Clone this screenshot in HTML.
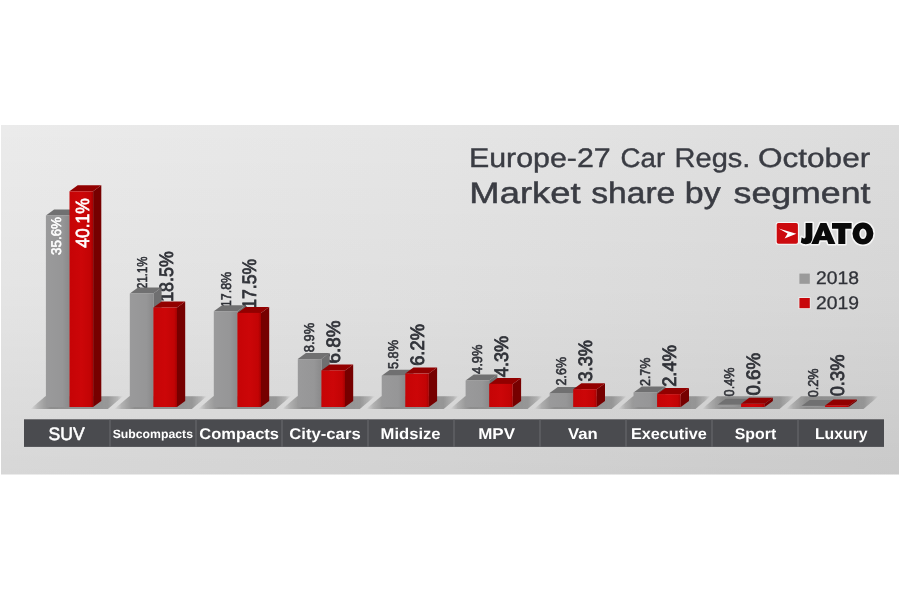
<!DOCTYPE html>
<html><head><meta charset="utf-8"><title>Europe-27 Car Regs. October - Market share by segment</title>
<style>
html,body{margin:0;padding:0;background:#fff;}
body{width:900px;height:600px;overflow:hidden;font-family:"Liberation Sans",sans-serif;}
svg{display:block;font-family:"Liberation Sans",sans-serif;}
text{text-rendering:geometricPrecision;}
</style></head><body>
<svg width="900" height="600" viewBox="0 0 900 600">
<defs>
<linearGradient id="bg" x1="0" x2="1" y1="0" y2="0">
<stop offset="0" stop-color="#ebebeb"/><stop offset="0.5" stop-color="#e5e5e5"/><stop offset="1" stop-color="#dcdcdc"/>
</linearGradient>
<linearGradient id="bgv" x1="0" x2="0" y1="0" y2="1">
<stop offset="0" stop-color="#000" stop-opacity="0"/><stop offset="0.5" stop-color="#000" stop-opacity="0.03"/><stop offset="1" stop-color="#000" stop-opacity="0.085"/>
</linearGradient>
<linearGradient id="gf" x1="0" x2="1" y1="0" y2="0">
<stop offset="0" stop-color="#9a9a9b"/><stop offset="0.7" stop-color="#969697"/><stop offset="1" stop-color="#8a8a8b"/>
</linearGradient>
<linearGradient id="rf" x1="0" x2="1" y1="0" y2="0">
<stop offset="0" stop-color="#c60406"/><stop offset="0.5" stop-color="#cc0608"/><stop offset="0.88" stop-color="#c20405"/><stop offset="1" stop-color="#a40102"/>
</linearGradient>
<linearGradient id="sh" x1="0" x2="1" y1="0" y2="0">
<stop offset="0" stop-color="#808080" stop-opacity="0"/>
<stop offset="0.08" stop-color="#808080" stop-opacity="0.45"/>
<stop offset="0.22" stop-color="#808080" stop-opacity="0.85"/>
<stop offset="0.84" stop-color="#848484" stop-opacity="0.78"/>
<stop offset="0.94" stop-color="#868686" stop-opacity="0.45"/>
<stop offset="1" stop-color="#888888" stop-opacity="0"/>
</linearGradient>
<filter id="b1" x="-10%" y="-30%" width="120%" height="160%"><feGaussianBlur stdDeviation="0.65"/></filter>
</defs>
<rect x="0" y="0" width="900" height="600" fill="#ffffff"/>
<g opacity="0.999">
<rect x="1" y="125" width="898" height="349.5" fill="url(#bg)"/>
<rect x="1" y="125" width="898" height="349.5" fill="url(#bgv)"/>

<polygon filter="url(#b1)" points="30.4,409.0 45.4,396.2 122.9,396.2 107.9,409.0" fill="url(#sh)"/>
<polygon filter="url(#b1)" points="114.3,409.0 129.3,396.2 206.8,396.2 191.8,409.0" fill="url(#sh)"/>
<polygon filter="url(#b1)" points="198.3,409.0 213.3,396.2 290.8,396.2 275.8,409.0" fill="url(#sh)"/>
<polygon filter="url(#b1)" points="282.2,409.0 297.2,396.2 374.8,396.2 359.8,409.0" fill="url(#sh)"/>
<polygon filter="url(#b1)" points="366.2,409.0 381.2,396.2 458.7,396.2 443.7,409.0" fill="url(#sh)"/>
<polygon filter="url(#b1)" points="450.1,409.0 465.1,396.2 542.6,396.2 527.6,409.0" fill="url(#sh)"/>
<polygon filter="url(#b1)" points="534.1,409.0 549.1,396.2 626.6,396.2 611.6,409.0" fill="url(#sh)"/>
<polygon filter="url(#b1)" points="618.0,409.0 633.0,396.2 710.5,396.2 695.5,409.0" fill="url(#sh)"/>
<polygon filter="url(#b1)" points="702.0,409.0 717.0,396.2 794.5,396.2 779.5,409.0" fill="url(#sh)"/>
<polygon filter="url(#b1)" points="786.0,409.0 801.0,396.2 878.5,396.2 863.5,409.0" fill="url(#sh)"/>
<text transform="translate(146.5,289.2) rotate(-90)" x="0.30" font-size="14.2" fill="#303238" stroke="#303238" stroke-width="0.6" textLength="32.29" lengthAdjust="spacingAndGlyphs">21.1%</text>
<text transform="translate(172.5,301.3) rotate(-90)" x="-0.52" font-size="19.4" fill="#303238" stroke="#303238" stroke-width="0.8" textLength="50.64" lengthAdjust="spacingAndGlyphs">18.5%</text>
<text transform="translate(230.5,306.7) rotate(-90)" x="-0.58" font-size="14.2" fill="#303238" stroke="#303238" stroke-width="0.6" textLength="35.54" lengthAdjust="spacingAndGlyphs">17.8%</text>
<text transform="translate(256.4,308.2) rotate(-90)" x="-0.51" font-size="19.4" fill="#303238" stroke="#303238" stroke-width="0.8" textLength="49.82" lengthAdjust="spacingAndGlyphs">17.5%</text>
<text transform="translate(314.4,352.5) rotate(-90)" x="0.30" font-size="14.2" fill="#303238" stroke="#303238" stroke-width="0.6" textLength="29.55" lengthAdjust="spacingAndGlyphs">8.9%</text>
<text transform="translate(340.4,363.8) rotate(-90)" x="0.40" font-size="19.4" fill="#303238" stroke="#303238" stroke-width="0.8" textLength="42.93" lengthAdjust="spacingAndGlyphs">6.8%</text>
<text transform="translate(398.4,369.3) rotate(-90)" x="0.30" font-size="14.2" fill="#303238" stroke="#303238" stroke-width="0.6" textLength="29.05" lengthAdjust="spacingAndGlyphs">5.8%</text>
<text transform="translate(424.3,366.2) rotate(-90)" x="0.40" font-size="19.4" fill="#303238" stroke="#303238" stroke-width="0.8" textLength="41.73" lengthAdjust="spacingAndGlyphs">6.2%</text>
<text transform="translate(482.3,374.3) rotate(-90)" x="0.30" font-size="14.2" fill="#303238" stroke="#303238" stroke-width="0.6" textLength="29.35" lengthAdjust="spacingAndGlyphs">4.9%</text>
<text transform="translate(508.3,377.6) rotate(-90)" x="0.40" font-size="19.4" fill="#303238" stroke="#303238" stroke-width="0.8" textLength="41.43" lengthAdjust="spacingAndGlyphs">4.3%</text>
<text transform="translate(566.3,385.7) rotate(-90)" x="0.30" font-size="14.2" fill="#303238" stroke="#303238" stroke-width="0.6" textLength="28.36" lengthAdjust="spacingAndGlyphs">2.6%</text>
<text transform="translate(592.2,381.9) rotate(-90)" x="0.40" font-size="19.4" fill="#303238" stroke="#303238" stroke-width="0.8" textLength="41.43" lengthAdjust="spacingAndGlyphs">3.3%</text>
<text transform="translate(650.2,386.3) rotate(-90)" x="0.30" font-size="14.2" fill="#303238" stroke="#303238" stroke-width="0.6" textLength="28.36" lengthAdjust="spacingAndGlyphs">2.7%</text>
<text transform="translate(676.2,387.2) rotate(-90)" x="0.40" font-size="19.4" fill="#303238" stroke="#303238" stroke-width="0.8" textLength="41.73" lengthAdjust="spacingAndGlyphs">2.4%</text>
<text transform="translate(734.2,396.7) rotate(-90)" x="0.30" font-size="14.2" fill="#303238" stroke="#303238" stroke-width="0.6" textLength="28.86" lengthAdjust="spacingAndGlyphs">0.4%</text>
<text transform="translate(760.1,396.0) rotate(-90)" x="0.40" font-size="19.4" fill="#303238" stroke="#303238" stroke-width="0.8" textLength="42.83" lengthAdjust="spacingAndGlyphs">0.6%</text>
<text transform="translate(818.1,397.6) rotate(-90)" x="0.30" font-size="14.2" fill="#303238" stroke="#303238" stroke-width="0.6" textLength="28.86" lengthAdjust="spacingAndGlyphs">0.2%</text>
<text transform="translate(844.1,396.7) rotate(-90)" x="0.40" font-size="19.4" fill="#303238" stroke="#303238" stroke-width="0.8" textLength="41.73" lengthAdjust="spacingAndGlyphs">0.3%</text>
<polygon points="69.5,215.5 77.7,209.5 77.7,401.0 69.5,407.0" fill="#6f6f70"/>
<polygon points="45.9,215.5 54.1,209.5 77.7,209.5 69.5,215.5" fill="#707071"/>
<rect x="45.9" y="215.5" width="23.6" height="191.5" fill="url(#gf)"/>
<polygon points="93.1,191.3 101.3,185.3 101.3,401.0 93.1,407.0" fill="#760000"/>
<polygon points="69.5,191.3 77.7,185.3 101.3,185.3 93.1,191.3" fill="#920000"/>
<rect x="69.5" y="191.3" width="23.6" height="215.7" fill="url(#rf)"/>
<polygon points="153.4,293.5 161.6,287.5 161.6,401.0 153.4,407.0" fill="#6f6f70"/>
<polygon points="129.8,293.5 138.0,287.5 161.6,287.5 153.4,293.5" fill="#707071"/>
<rect x="129.8" y="293.5" width="23.6" height="113.5" fill="url(#gf)"/>
<polygon points="177.0,307.5 185.2,301.5 185.2,401.0 177.0,407.0" fill="#760000"/>
<polygon points="153.4,307.5 161.6,301.5 185.2,301.5 177.0,307.5" fill="#920000"/>
<rect x="153.4" y="307.5" width="23.6" height="99.5" fill="url(#rf)"/>
<polygon points="237.4,311.2 245.6,305.2 245.6,401.0 237.4,407.0" fill="#6f6f70"/>
<polygon points="213.8,311.2 222.0,305.2 245.6,305.2 237.4,311.2" fill="#707071"/>
<rect x="213.8" y="311.2" width="23.6" height="95.8" fill="url(#gf)"/>
<polygon points="261.0,312.9 269.2,306.9 269.2,401.0 261.0,407.0" fill="#760000"/>
<polygon points="237.4,312.9 245.6,306.9 269.2,306.9 261.0,312.9" fill="#920000"/>
<rect x="237.4" y="312.9" width="23.6" height="94.1" fill="url(#rf)"/>
<polygon points="321.4,359.1 329.6,353.1 329.6,401.0 321.4,407.0" fill="#6f6f70"/>
<polygon points="297.8,359.1 305.9,353.1 329.6,353.1 321.4,359.1" fill="#707071"/>
<rect x="297.8" y="359.1" width="23.6" height="47.9" fill="url(#gf)"/>
<polygon points="345.0,370.4 353.2,364.4 353.2,401.0 345.0,407.0" fill="#760000"/>
<polygon points="321.4,370.4 329.6,364.4 353.2,364.4 345.0,370.4" fill="#920000"/>
<rect x="321.4" y="370.4" width="23.6" height="36.6" fill="url(#rf)"/>
<polygon points="405.3,375.8 413.5,369.8 413.5,401.0 405.3,407.0" fill="#6f6f70"/>
<polygon points="381.7,375.8 389.9,369.8 413.5,369.8 405.3,375.8" fill="#707071"/>
<rect x="381.7" y="375.8" width="23.6" height="31.2" fill="url(#gf)"/>
<polygon points="428.9,373.6 437.1,367.6 437.1,401.0 428.9,407.0" fill="#760000"/>
<polygon points="405.3,373.6 413.5,367.6 437.1,367.6 428.9,373.6" fill="#920000"/>
<rect x="405.3" y="373.6" width="23.6" height="33.4" fill="url(#rf)"/>
<polygon points="489.2,380.6 497.4,374.6 497.4,401.0 489.2,407.0" fill="#6f6f70"/>
<polygon points="465.6,380.6 473.8,374.6 497.4,374.6 489.2,380.6" fill="#707071"/>
<rect x="465.6" y="380.6" width="23.6" height="26.4" fill="url(#gf)"/>
<polygon points="512.9,383.9 521.1,377.9 521.1,401.0 512.9,407.0" fill="#760000"/>
<polygon points="489.2,383.9 497.4,377.9 521.1,377.9 512.9,383.9" fill="#920000"/>
<rect x="489.2" y="383.9" width="23.6" height="23.1" fill="url(#rf)"/>
<polygon points="573.2,393.0 581.4,387.0 581.4,401.0 573.2,407.0" fill="#6f6f70"/>
<polygon points="549.6,393.0 557.8,387.0 581.4,387.0 573.2,393.0" fill="#707071"/>
<rect x="549.6" y="393.0" width="23.6" height="14.0" fill="url(#gf)"/>
<polygon points="596.8,389.2 605.0,383.2 605.0,401.0 596.8,407.0" fill="#760000"/>
<polygon points="573.2,389.2 581.4,383.2 605.0,383.2 596.8,389.2" fill="#920000"/>
<rect x="573.2" y="389.2" width="23.6" height="17.8" fill="url(#rf)"/>
<polygon points="657.1,392.5 665.4,386.5 665.4,401.0 657.1,407.0" fill="#6f6f70"/>
<polygon points="633.5,392.5 641.8,386.5 665.4,386.5 657.1,392.5" fill="#707071"/>
<rect x="633.5" y="392.5" width="23.6" height="14.5" fill="url(#gf)"/>
<polygon points="680.8,394.1 689.0,388.1 689.0,401.0 680.8,407.0" fill="#760000"/>
<polygon points="657.1,394.1 665.4,388.1 689.0,388.1 680.8,394.1" fill="#920000"/>
<rect x="657.1" y="394.1" width="23.6" height="12.9" fill="url(#rf)"/>
<polygon points="741.1,404.8 749.3,398.8 749.3,401.0 741.1,407.0" fill="#6f6f70"/>
<polygon points="717.5,404.8 725.7,398.8 749.3,398.8 741.1,404.8" fill="#707071"/>
<rect x="717.5" y="404.8" width="23.6" height="2.2" fill="url(#gf)"/>
<polygon points="764.7,403.8 772.9,397.8 772.9,401.0 764.7,407.0" fill="#760000"/>
<polygon points="741.1,403.8 749.3,397.8 772.9,397.8 764.7,403.8" fill="#920000"/>
<rect x="741.1" y="403.8" width="23.6" height="3.2" fill="url(#rf)"/>
<polygon points="825.1,405.9 833.3,399.9 833.3,401.0 825.1,407.0" fill="#6f6f70"/>
<polygon points="801.5,405.9 809.7,399.9 833.3,399.9 825.1,405.9" fill="#707071"/>
<rect x="801.5" y="405.9" width="23.6" height="1.1" fill="url(#gf)"/>
<polygon points="848.7,405.4 856.9,399.4 856.9,401.0 848.7,407.0" fill="#760000"/>
<polygon points="825.1,405.4 833.3,399.4 856.9,399.4 848.7,405.4" fill="#920000"/>
<rect x="825.1" y="405.4" width="23.6" height="1.6" fill="url(#rf)"/>
<text transform="translate(60.9,255.2) rotate(-90)" x="0.30" font-size="14.0" fill="#ffffff" stroke="#ffffff" stroke-width="0.6" textLength="37.83" lengthAdjust="spacingAndGlyphs">35.6%</text>
<text transform="translate(88.8,248.0) rotate(-90)" x="0.35" font-size="19.0" fill="#ffffff" stroke="#ffffff" stroke-width="0.7" textLength="49.50" lengthAdjust="spacingAndGlyphs">40.1%</text>
<rect x="24" y="419.3" width="860" height="27.6" fill="#4a4b4f"/>
<rect x="109.5" y="419.3" width="1" height="27.6" fill="#6b6c70"/>
<rect x="195.5" y="419.3" width="1" height="27.6" fill="#6b6c70"/>
<rect x="281.5" y="419.3" width="1" height="27.6" fill="#6b6c70"/>
<rect x="367.5" y="419.3" width="1" height="27.6" fill="#6b6c70"/>
<rect x="453.5" y="419.3" width="1" height="27.6" fill="#6b6c70"/>
<rect x="539.5" y="419.3" width="1" height="27.6" fill="#6b6c70"/>
<rect x="625.5" y="419.3" width="1" height="27.6" fill="#6b6c70"/>
<rect x="711.5" y="419.3" width="1" height="27.6" fill="#6b6c70"/>
<rect x="797.5" y="419.3" width="1" height="27.6" fill="#6b6c70"/>
<text x="48.57" y="440.0" font-size="18" fill="#ffffff" stroke="#ffffff" stroke-width="0.55" textLength="36.16" lengthAdjust="spacingAndGlyphs">SUV</text>
<text x="112.70" y="438.3" font-size="12" font-weight="bold" fill="#ffffff" textLength="80.27" lengthAdjust="spacingAndGlyphs">Subcompacts</text>
<text x="199.30" y="439.3" font-size="15.5" font-weight="bold" fill="#ffffff" textLength="79.66" lengthAdjust="spacingAndGlyphs">Compacts</text>
<text x="289.30" y="439.3" font-size="15.5" font-weight="bold" fill="#ffffff" textLength="71.37" lengthAdjust="spacingAndGlyphs">City-cars</text>
<text x="380.63" y="439.3" font-size="15.5" font-weight="bold" fill="#ffffff" textLength="59.96" lengthAdjust="spacingAndGlyphs">Midsize</text>
<text x="478.21" y="439.3" font-size="15.5" font-weight="bold" fill="#ffffff" textLength="36.77" lengthAdjust="spacingAndGlyphs">MPV</text>
<text x="568.00" y="439.3" font-size="15.5" font-weight="bold" fill="#ffffff" textLength="29.70" lengthAdjust="spacingAndGlyphs">Van</text>
<text x="630.95" y="439.3" font-size="15.5" font-weight="bold" fill="#ffffff" textLength="75.85" lengthAdjust="spacingAndGlyphs">Executive</text>
<text x="734.80" y="439.3" font-size="15.5" font-weight="bold" fill="#ffffff" textLength="41.37" lengthAdjust="spacingAndGlyphs">Sport</text>
<text x="814.98" y="439.3" font-size="15.5" font-weight="bold" fill="#ffffff" textLength="52.63" lengthAdjust="spacingAndGlyphs">Luxury</text>
<text x="468.93" y="167.4" font-size="26.8" fill="#3a3c43" stroke="#3a3c43" stroke-width="0.4" textLength="141.79" lengthAdjust="spacingAndGlyphs">Europe-27</text>
<text x="620.57" y="167.4" font-size="26.8" fill="#3a3c43" stroke="#3a3c43" stroke-width="0.4" textLength="44.55" lengthAdjust="spacingAndGlyphs">Car</text>
<text x="674.63" y="167.4" font-size="26.8" fill="#3a3c43" stroke="#3a3c43" stroke-width="0.4" textLength="75.81" lengthAdjust="spacingAndGlyphs">Regs.</text>
<text x="758.02" y="167.4" font-size="26.8" fill="#3a3c43" stroke="#3a3c43" stroke-width="0.4" textLength="112.19" lengthAdjust="spacingAndGlyphs">October</text>
<text x="469.39" y="203.2" font-size="29.6" fill="#3a3c43" stroke="#3a3c43" stroke-width="0.5" textLength="111.13" lengthAdjust="spacingAndGlyphs">Market</text>
<text x="591.25" y="203.2" font-size="29.6" fill="#3a3c43" stroke="#3a3c43" stroke-width="0.5" textLength="84.02" lengthAdjust="spacingAndGlyphs">share</text>
<text x="684.80" y="203.2" font-size="29.6" fill="#3a3c43" stroke="#3a3c43" stroke-width="0.5" textLength="35.81" lengthAdjust="spacingAndGlyphs">by</text>
<text x="733.55" y="203.2" font-size="29.6" fill="#3a3c43" stroke="#3a3c43" stroke-width="0.5" textLength="136.97" lengthAdjust="spacingAndGlyphs">segment</text>
<rect x="775.7" y="222" width="23.2" height="22.8" rx="2.5" fill="#ffffff" opacity="0.8" filter="url(#b1)"/>
<rect x="776.7" y="223" width="21.2" height="20.8" rx="1.8" fill="#cc0a0e"/>
<polygon points="778.6,228.4 796.4,233.8 784.6,238.4 787.6,233.6" fill="#ffffff"/>
<path d="M805.6,223 H812.4 V237.3 Q812.4,244.3 805.8,244.3 Q802.6,244.3 800.8,242.5 L801.7,237.2 Q803.4,238.7 804.5,238.5 Q805.6,238.3 805.6,236.6 Z M820.4,223 H826.4 L835.4,244 H828.4 L827.1,240.3 H819.6 L818.4,244 H811.3 Z M823.35,230.2 L825.2,236 H821.5 Z M832,223 H851.6 V228.7 H845.3 V244 H838.3 V228.7 H832 Z M852.5,233.5 A10.45,11 0 1 0 873.4,233.5 A10.45,11 0 1 0 852.5,233.5 Z M859.3,233.7 A3.65,5.2 0 1 0 866.6,233.7 A3.65,5.2 0 1 0 859.3,233.7 Z" fill="#fff" stroke="#fff" stroke-width="3.2" stroke-linejoin="round" opacity="0.75" filter="url(#b1)" fill-rule="evenodd"/>
<path d="M805.6,223 H812.4 V237.3 Q812.4,244.3 805.8,244.3 Q802.6,244.3 800.8,242.5 L801.7,237.2 Q803.4,238.7 804.5,238.5 Q805.6,238.3 805.6,236.6 Z M820.4,223 H826.4 L835.4,244 H828.4 L827.1,240.3 H819.6 L818.4,244 H811.3 Z M823.35,230.2 L825.2,236 H821.5 Z M832,223 H851.6 V228.7 H845.3 V244 H838.3 V228.7 H832 Z M852.5,233.5 A10.45,11 0 1 0 873.4,233.5 A10.45,11 0 1 0 852.5,233.5 Z M859.3,233.7 A3.65,5.2 0 1 0 866.6,233.7 A3.65,5.2 0 1 0 859.3,233.7 Z" fill="#0a0a0a" fill-rule="evenodd"/>
<rect x="799.4" y="273.6" width="10.4" height="10.2" fill="#9a9a9a"/>
<rect x="798.6" y="297.2" width="12" height="11.8" fill="#ffffff" opacity="0.6" filter="url(#b1)"/>
<rect x="799.4" y="298" width="10.4" height="10.2" fill="#c8070b"/>
<text x="816.05" y="284.3" font-size="18.2" fill="#303238" stroke="#303238" stroke-width="0.3" textLength="42.92" lengthAdjust="spacingAndGlyphs">2018</text>
<text x="816.05" y="308.6" font-size="18.2" fill="#303238" stroke="#303238" stroke-width="0.3" textLength="42.92" lengthAdjust="spacingAndGlyphs">2019</text>
</g>
</svg>
</body></html>
